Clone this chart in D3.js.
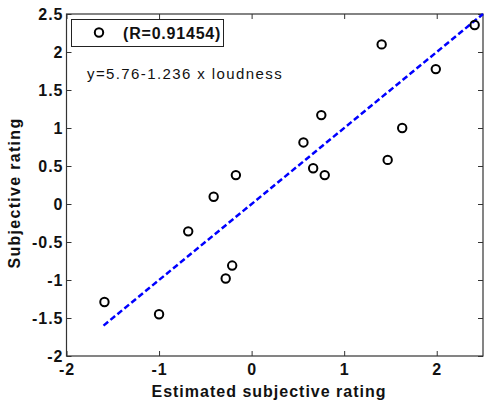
<!DOCTYPE html>
<html>
<head>
<meta charset="utf-8">
<script src="https://cdn.jsdelivr.net/npm/d3@7"></script>
<style>
  body { margin: 0; background: #fff; }
  svg { display: block; font-family: "Liberation Sans", Arial, sans-serif; }
</style>
</head>
<body>
<script>
// data
const estimated = [-1.59, -1.0, -0.685, -0.41, -0.28, -0.21, -0.17, 0.56, 0.665, 0.753, 0.79, 1.405, 1.47, 1.627, 1.99, 2.41];
const subjective = [-1.29, -1.45, -0.36, 0.095, -0.98, -0.81, 0.38, 0.81, 0.47, 1.17, 0.38, 2.10, 0.58, 1.0, 1.775, 2.355];
const fitX = [-1.6, 2.5];
const fitY = [-1.6, 2.5];
const xTicks = [-2, -1, 0, 1, 2];
const yTicks = [-2, -1.5, -1, -0.5, 0, 0.5, 1, 1.5, 2, 2.5];
const legendLabel = "(R=0.91454)";
const equation = "y=5.76-1.236 x loudness";

const SVG_DIM = { W: 484, H: 404 };
const PLOT = { LEFT: 66.5, RIGHT: 483, TOP: 14, BOTTOM: 356 };

const svg = d3.select("body").append("svg")
  .attr("width", SVG_DIM.W)
  .attr("height", SVG_DIM.H);

const x = d3.scaleLinear().domain([-2, 2.5]).range([PLOT.LEFT, PLOT.RIGHT]);
const y = d3.scaleLinear().domain([-2, 2.5]).range([PLOT.BOTTOM, PLOT.TOP]);

// plain hyphen for negatives, like the original
const fmt = (d) => String(d);

// axes: labelled bottom/left, mirrored ticks top/right
const styleAxis = (g) => {
  g.select(".domain").remove();
  g.selectAll(".tick line").attr("stroke", "#333").attr("stroke-width", 1);
  g.selectAll(".tick text")
    .attr("font-size", "16px")
    .attr("font-weight", "bold")
    .attr("letter-spacing", "1px")
    .attr("fill", "#111");
};

svg.append("g")
  .attr("transform", `translate(0,${PLOT.BOTTOM})`)
  .call(d3.axisBottom(x).tickValues(xTicks).tickSize(-5).tickPadding(8).tickFormat(fmt))
  .call(styleAxis);

svg.append("g")
  .attr("transform", `translate(0,${PLOT.TOP})`)
  .call(d3.axisTop(x).tickValues(xTicks).tickSize(-5).tickFormat(""))
  .call(styleAxis);

svg.append("g")
  .attr("transform", `translate(${PLOT.LEFT},0)`)
  .call(d3.axisLeft(y).tickValues(yTicks).tickSize(-5).tickPadding(3).tickFormat(fmt))
  .call(styleAxis);

svg.append("g")
  .attr("transform", `translate(${PLOT.RIGHT},0)`)
  .call(d3.axisRight(y).tickValues(yTicks).tickSize(-5).tickFormat(""))
  .call(styleAxis);

// frame
svg.append("rect")
  .attr("x", PLOT.LEFT)
  .attr("y", PLOT.TOP)
  .attr("width", PLOT.RIGHT - PLOT.LEFT)
  .attr("height", PLOT.BOTTOM - PLOT.TOP)
  .attr("fill", "none")
  .attr("stroke", "#333")
  .attr("stroke-width", 1.2);

// fitted line
const line = d3.line().x((d) => x(d[0])).y((d) => y(d[1]));
svg.append("path")
  .datum(d3.zip(fitX, fitY))
  .attr("d", line)
  .attr("fill", "none")
  .attr("stroke", "#0000ff")
  .attr("stroke-width", 2.5)
  .attr("stroke-dasharray", "6,3");

// points
svg.append("g")
  .selectAll("circle")
  .data(d3.zip(estimated, subjective))
  .enter()
  .append("circle")
  .attr("cx", (d) => x(d[0]))
  .attr("cy", (d) => y(d[1]))
  .attr("r", 4.2)
  .attr("fill", "none")
  .attr("stroke", "#000")
  .attr("stroke-width", 2);

// legend
const legend = svg.append("g");
legend.append("rect")
  .attr("x", 71.5).attr("y", 19.5)
  .attr("width", 152).attr("height", 27)
  .attr("fill", "#fff")
  .attr("stroke", "#222")
  .attr("stroke-width", 1);
legend.append("circle")
  .attr("cx", 99).attr("cy", 32.5).attr("r", 4.2)
  .attr("fill", "none").attr("stroke", "#000").attr("stroke-width", 2);
legend.append("text")
  .attr("x", 123).attr("y", 39)
  .attr("font-size", "16px")
  .attr("font-weight", "bold")
  .attr("letter-spacing", "0.8px")
  .attr("fill", "#111")
  .text(legendLabel);

svg.append("text")
  .attr("x", 87).attr("y", 79)
  .attr("font-size", "15px")
  .attr("letter-spacing", "1.4px")
  .attr("fill", "#111")
  .text(equation);

// axis titles
svg.append("text")
  .attr("x", 269)
  .attr("y", 397)
  .attr("text-anchor", "middle")
  .attr("font-size", "16px")
  .attr("font-weight", "bold")
  .attr("letter-spacing", "1px")
  .attr("fill", "#111")
  .text("Estimated subjective rating");

svg.append("text")
  .attr("transform", "translate(20,193) rotate(-90)")
  .attr("text-anchor", "middle")
  .attr("font-size", "16px")
  .attr("font-weight", "bold")
  .attr("letter-spacing", "1.3px")
  .attr("fill", "#111")
  .text("Subjective rating");
</script>
</body>
</html>
